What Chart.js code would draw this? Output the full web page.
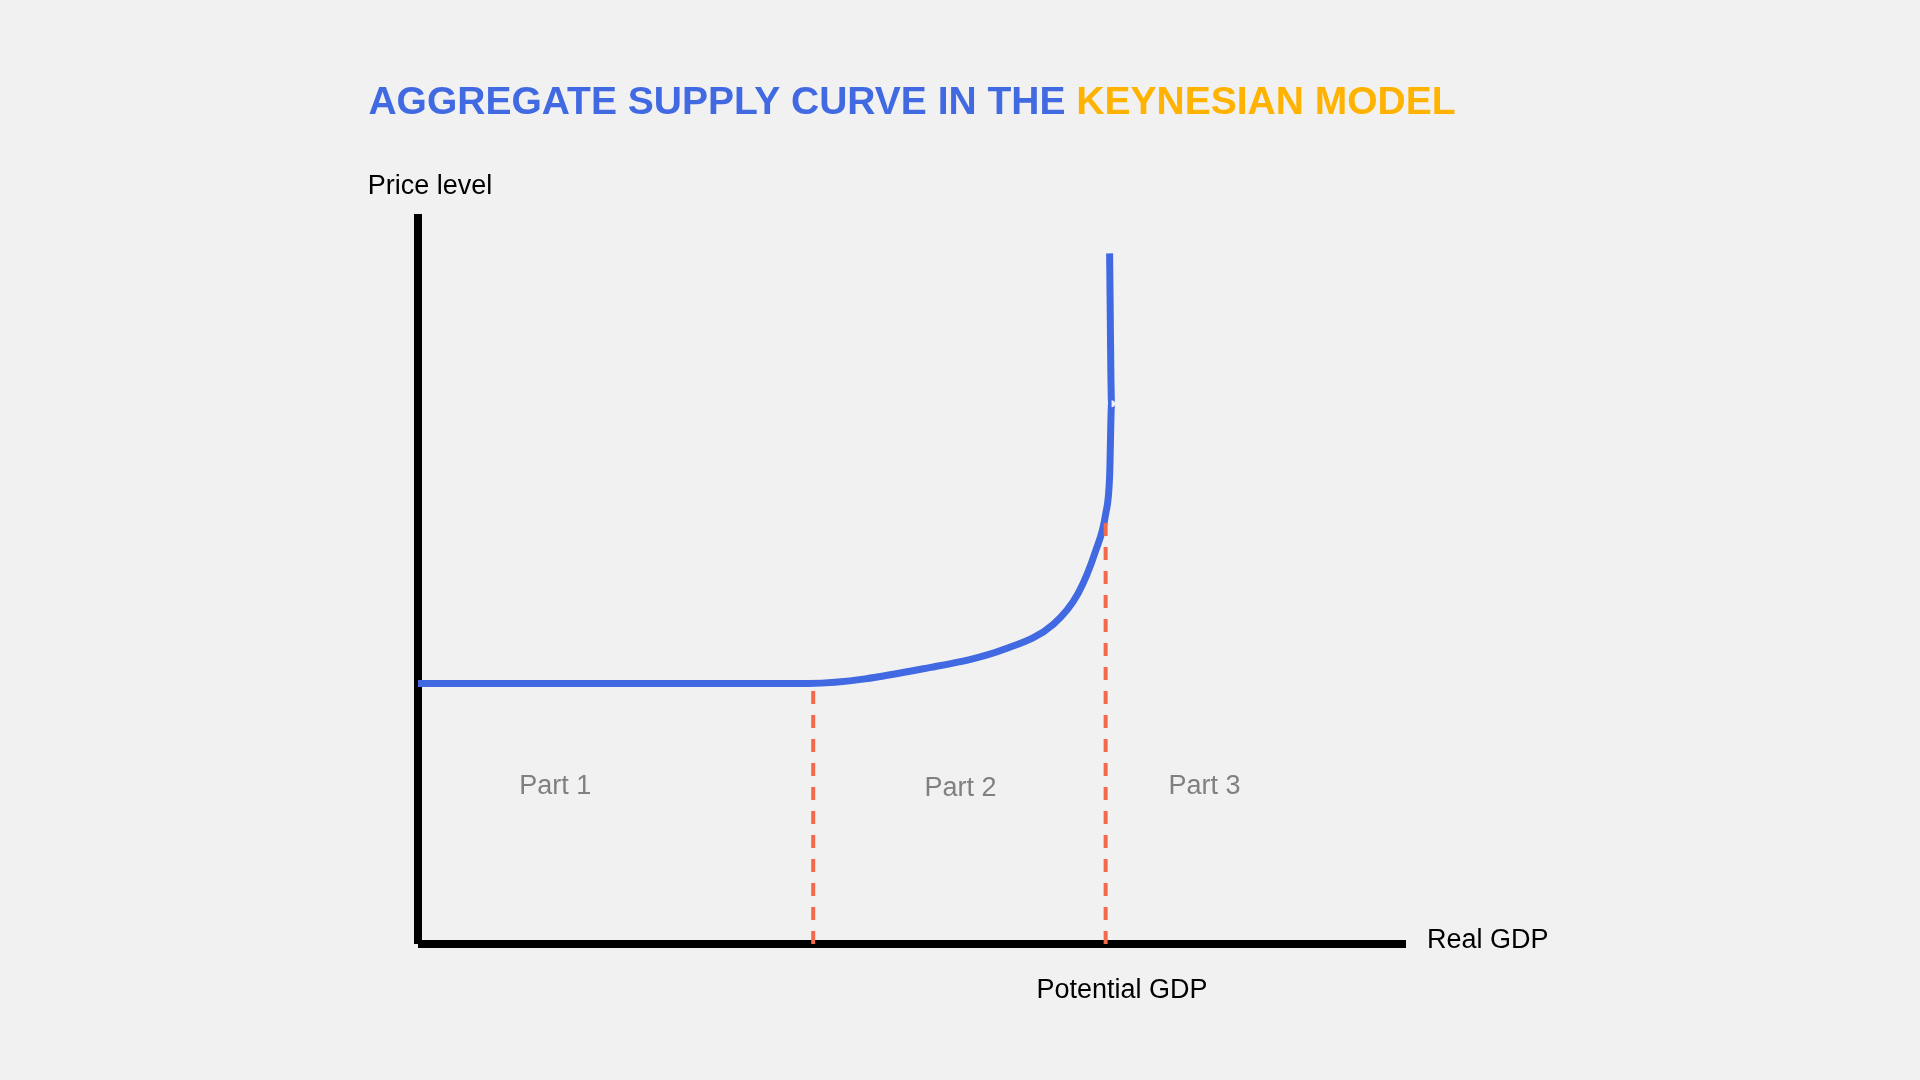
<!DOCTYPE html>
<html><head><meta charset="utf-8">
<script src="https://cdn.jsdelivr.net/npm/chart.js@4/dist/chart.umd.min.js"></script>
<style>html,body{margin:0;padding:0;background:#f1f1f1;}#wrap{width:1920px;height:1080px;}</style>
</head><body><div id="wrap"><canvas id="c" width="1920" height="1080"></canvas></div>
<script>
const curveX = [0, 39.5, 51.9, 59.4, 64.3, 66.8, 68.6, 69.6, 70.0, 70.2, 70.0];
const curveY = [35.7, 35.7, 37.9, 40.4, 43.8, 48.0, 53.9, 58.9, 64.0, 74.0, 94.6];
const dash1X = [40.0, 40.0], dash1Y = [0, 35.7];
const dash2X = [69.6, 69.6], dash2Y = [0, 59.0];
const axisYX = [0, 0], axisYY = [0, 100];
const axisXX = [0, 100], axisXY = [0, 0];
const partLabels = ['Part 1', 'Part 2', 'Part 3'];
const partX = [13.9, 54.9, 79.6];
const partY = [21.6, 21.3, 21.6];
const pts = (xs, ys) => xs.map((x, i) => ({x, y: ys[i]}));

const textPlugin = {
  id: 'texts',
  afterDraw(chart) {
    const {ctx, scales: {x, y}} = chart;
    ctx.save();
    ctx.textBaseline = 'middle';
    ctx.font = 'bold 39px "Liberation Sans", Arial, sans-serif';
    const t1 = 'AGGREGATE SUPPLY CURVE IN THE ', t2 = 'KEYNESIAN MODEL';
    const w1 = ctx.measureText(t1).width, w2 = ctx.measureText(t2).width;
    let sx = 912 - (w1 + w2) / 2;
    ctx.textAlign = 'left';
    ctx.fillStyle = '#4169E1'; ctx.fillText(t1, sx, 103);
    ctx.fillStyle = '#FFB300'; ctx.fillText(t2, sx + w1, 103);
    ctx.font = '27px "Liberation Sans", Arial, sans-serif';
    ctx.fillStyle = '#808080'; ctx.textAlign = 'center';
    partLabels.forEach((l, i) => ctx.fillText(l, x.getPixelForValue(partX[i]), y.getPixelForValue(partY[i])));
    ctx.fillStyle = '#000';
    ctx.fillText('Price level', 430, 187);
    ctx.fillText('Potential GDP', 1122, 991);
    ctx.textAlign = 'left';
    ctx.fillText('Real GDP', 1427, 941);
    ctx.restore();
  }
};
const bg = {id:'bg', beforeDraw(c){c.ctx.save();c.ctx.fillStyle='#f1f1f1';c.ctx.fillRect(0,0,c.width,c.height);c.ctx.restore();}};

new Chart(document.getElementById('c'), {
  type: 'line',
  data: { datasets: [
    {data: pts(dash1X, dash1Y), borderColor: '#F4694A', borderWidth: 4, borderDash: [13, 11], pointRadius: 0},
    {data: pts(dash2X, dash2Y), borderColor: '#F4694A', borderWidth: 4, borderDash: [13, 11], pointRadius: 0},
    {data: pts(curveX, curveY), borderColor: '#4169E1', borderWidth: 7, pointRadius: 0, cubicInterpolationMode: 'monotone'},
    {data: pts(axisYX, axisYY), borderColor: '#000', borderWidth: 8, pointRadius: 0, borderCapStyle: 'butt'},
    {data: pts(axisXX, axisXY), borderColor: '#000', borderWidth: 8, pointRadius: 0, borderCapStyle: 'butt'}
  ]},
  options: {
    responsive: false, animation: false, devicePixelRatio: 1,
    layout: {padding: {left: 418, right: 514, top: 214, bottom: 136}},
    scales: {
      x: {type: 'linear', min: 0, max: 100, display: false},
      y: {type: 'linear', min: 0, max: 100, display: false}
    },
    plugins: {legend: {display: false}, tooltip: {enabled: false}},
    elements: {line: {fill: false}},
    clip: false
  },
  plugins: [bg, textPlugin]
});
</script></body></html>
